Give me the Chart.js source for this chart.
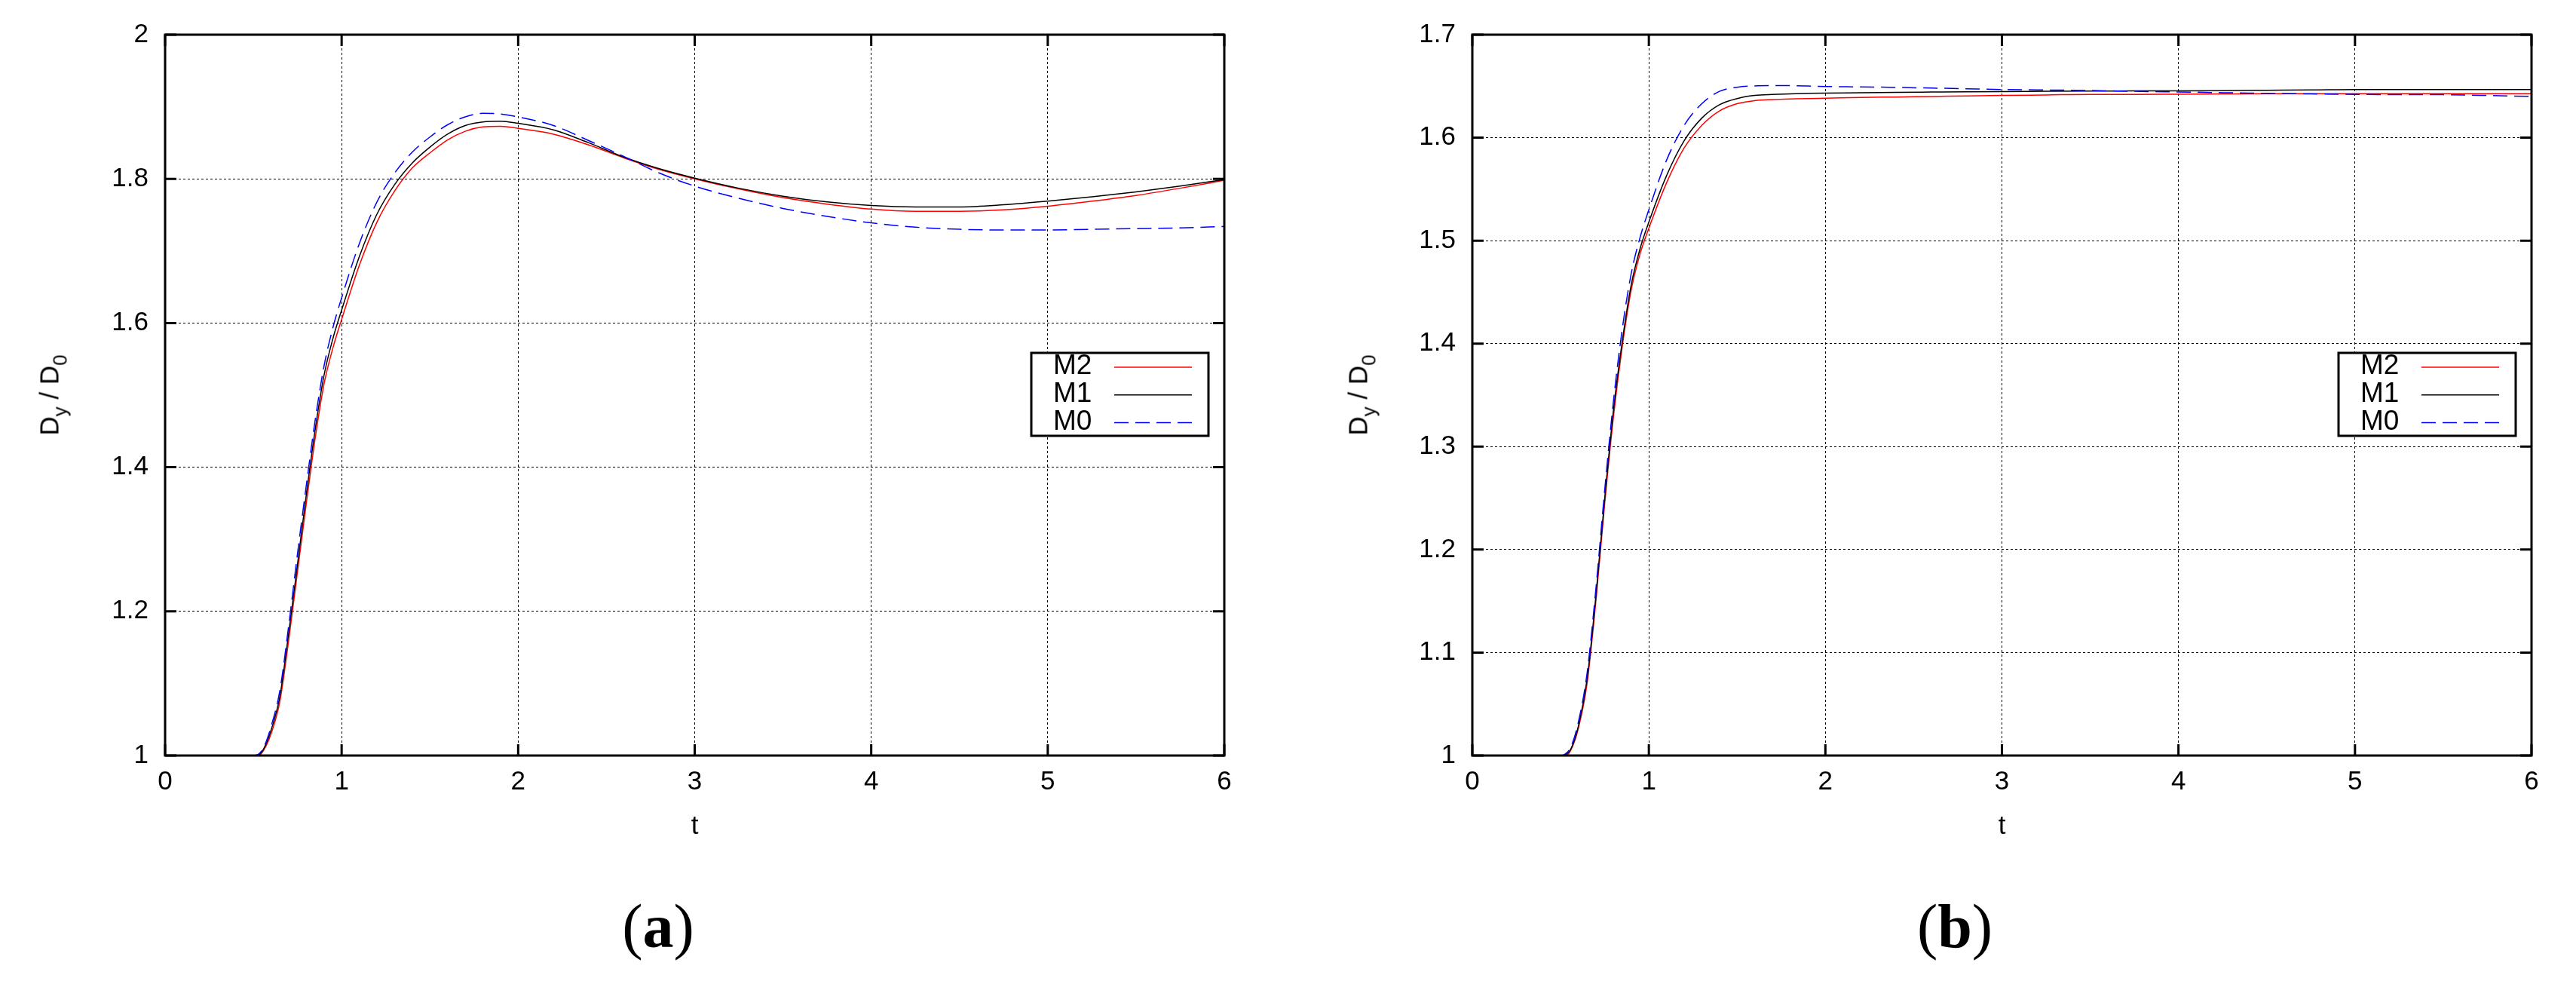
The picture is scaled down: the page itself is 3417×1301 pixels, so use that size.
<!DOCTYPE html>
<html>
<head>
<meta charset="utf-8">
<script src="https://cdn.jsdelivr.net/npm/chart.js@4.4.0/dist/chart.umd.min.js"></script>
<style>
  html, body { margin: 0; padding: 0; background: #fff; }
  body { width: 3417px; height: 1301px; position: relative; overflow: hidden; }
  canvas { position: absolute; top: 0; }
  #chartA { left: 0; }
  #chartB { left: 1708px; }
  .ytitle {
    position: absolute; font-family: 'Liberation Sans', Arial, sans-serif; font-size: 35px;
    line-height: 1; white-space: nowrap; color: #000;
    transform: translate(-50%, -50%) rotate(-90deg);
  }
  .ytitle sub { font-size: 26px; vertical-align: -11px; line-height: 0; }
  .caption {
    position: absolute; top: 1229px; font-family: 'Liberation Serif', 'Times New Roman', serif;
    font-size: 82px; line-height: 1; color: #000; transform: translate(-50%, -50%);
  }
</style>
</head>
<body>
<canvas id="chartA" width="1708" height="1301" style="width:1708px;height:1301px"></canvas>
<canvas id="chartB" width="1709" height="1301" style="width:1709px;height:1301px"></canvas>
<div class="ytitle" style="left:65px;top:524px">D<sub>y</sub> / D<sub>0</sub></div>
<div class="ytitle" style="left:1801px;top:524px">D<sub>y</sub> / D<sub>0</sub></div>
<div class="caption" style="left:873px">(<b>a</b>)</div>
<div class="caption" style="left:2593px">(<b>b</b>)</div>
<script>
// time samples shared by both panels
const tValues = [0, 0.5, 0.53, 0.56, 0.6, 0.65, 0.7, 0.75, 0.8, 0.85,
                 0.9, 0.95, 1.0, 1.1, 1.2, 1.3, 1.4, 1.5, 1.6, 1.7,
                 1.8, 1.9, 2.0, 2.2, 2.4, 2.6, 2.8, 3.0, 3.25, 3.5,
                 3.75, 4.0, 4.25, 4.5, 4.75, 5.0, 5.25, 5.5, 5.75, 6.0];

// panel (a)
const m2A = [1, 1, 1.0, 1.008, 1.03, 1.075, 1.16, 1.255, 1.35, 1.44,
             1.515, 1.565, 1.605, 1.68, 1.74, 1.783, 1.815, 1.836, 1.854, 1.866,
             1.872, 1.873, 1.870, 1.862, 1.847, 1.829, 1.813, 1.800, 1.786, 1.774,
             1.765, 1.758, 1.755, 1.755, 1.757, 1.762, 1.769, 1.777, 1.787, 1.798];
const m1A = [1, 1, 1.001, 1.01, 1.035, 1.082, 1.17, 1.265, 1.362, 1.452,
             1.527, 1.578, 1.618, 1.692, 1.751, 1.792, 1.822, 1.844, 1.862, 1.874,
             1.879, 1.880, 1.877, 1.868, 1.850, 1.830, 1.814, 1.801, 1.787, 1.776,
             1.768, 1.763, 1.761, 1.761, 1.764, 1.769, 1.775, 1.782, 1.790, 1.799];
const m0A = [1, 1, 1.002, 1.012, 1.04, 1.09, 1.18, 1.28, 1.375, 1.465,
             1.54, 1.593, 1.635, 1.71, 1.768, 1.808, 1.837, 1.858, 1.875, 1.886,
             1.891, 1.890, 1.886, 1.874, 1.853, 1.831, 1.808, 1.790, 1.773, 1.759,
             1.748, 1.739, 1.733, 1.730, 1.729, 1.729, 1.730, 1.731, 1.732, 1.734];

// panel (b)
const m2B = [1, 1, 1.0, 1.006, 1.026, 1.07, 1.15, 1.245, 1.33, 1.398,
             1.452, 1.487, 1.512, 1.556, 1.59, 1.612, 1.626, 1.633, 1.636, 1.637,
             1.6375, 1.638, 1.6383, 1.639, 1.6395, 1.640, 1.6405, 1.641, 1.6415, 1.642,
             1.642, 1.6422, 1.6425, 1.6427, 1.6427, 1.6427, 1.6427, 1.6427, 1.6427, 1.6427];
const m1B = [1, 1, 1.001, 1.007, 1.028, 1.074, 1.155, 1.25, 1.336, 1.403,
             1.457, 1.492, 1.518, 1.563, 1.597, 1.619, 1.632, 1.638, 1.641, 1.642,
             1.6425, 1.643, 1.6433, 1.6436, 1.644, 1.6443, 1.6446, 1.6448, 1.645, 1.6452,
             1.6454, 1.6455, 1.6457, 1.646, 1.6463, 1.6468, 1.6468, 1.6468, 1.6468, 1.6468];
const m0B = [1, 1, 1.002, 1.009, 1.032, 1.08, 1.162, 1.258, 1.345, 1.415,
             1.468, 1.503, 1.53, 1.578, 1.612, 1.633, 1.645, 1.649, 1.6503, 1.6505,
             1.6505, 1.6502, 1.6497, 1.6493, 1.6488, 1.6482, 1.6475, 1.6468, 1.6463, 1.6458,
             1.645, 1.6444, 1.6437, 1.643, 1.6425, 1.642, 1.6418, 1.6417, 1.641, 1.640];

const seriesNames = ['M2', 'M1', 'M0'];
const xTicks = [0, 1, 2, 3, 4, 5, 6];
const yTicksA = [1, 1.2, 1.4, 1.6, 1.8, 2];
const yTicksB = [1, 1.1, 1.2, 1.3, 1.4, 1.5, 1.6, 1.7];

const FONT = "'Liberation Sans', Arial, sans-serif";
const TICK_LEN = 15;

Chart.defaults.font.family = FONT;
Chart.defaults.color = '#000';

// gnuplot style frame with inward ticks on all four sides
const frameTicks = {
  id: 'frameTicks',
  afterDatasetsDraw(chart) {
    const {ctx, chartArea: a, scales: {x, y}} = chart;
    ctx.save();
    ctx.strokeStyle = '#000';
    ctx.lineWidth = 3;
    ctx.setLineDash([]);
    ctx.beginPath();
    x.ticks.forEach(t => {
      const px = x.getPixelForValue(t.value);
      ctx.moveTo(px, a.bottom); ctx.lineTo(px, a.bottom - TICK_LEN);
      ctx.moveTo(px, a.top); ctx.lineTo(px, a.top + TICK_LEN);
    });
    y.ticks.forEach(t => {
      const py = y.getPixelForValue(t.value);
      ctx.moveTo(a.left, py); ctx.lineTo(a.left + TICK_LEN, py);
      ctx.moveTo(a.right, py); ctx.lineTo(a.right - TICK_LEN, py);
    });
    ctx.stroke();
    ctx.strokeRect(a.left, a.top, a.right - a.left, a.bottom - a.top);
    ctx.restore();
  }
};

// boxed legend: label on the left, line sample on the right
const boxLegend = {
  id: 'boxLegend',
  afterDraw(chart, args, opts) {
    const {ctx, chartArea: a} = chart;
    const right = a.right - opts.rightGap;
    const left = right - opts.width;
    const top = a.top + opts.top;
    ctx.save();
    ctx.fillStyle = '#fff';
    ctx.fillRect(left, top, opts.width, opts.height);
    ctx.lineWidth = 3;
    ctx.strokeStyle = '#000';
    ctx.setLineDash([]);
    ctx.strokeRect(left, top, opts.width, opts.height);
    ctx.font = '37px ' + FONT;
    ctx.textBaseline = 'middle';
    ctx.textAlign = 'left';
    chart.data.datasets.forEach((ds, i) => {
      const yy = top + opts.rowTop + i * opts.rowGap;
      ctx.fillStyle = '#000';
      ctx.fillText(ds.label, left + opts.textX, yy);
      ctx.beginPath();
      ctx.lineWidth = ds.borderWidth;
      ctx.strokeStyle = ds.borderColor;
      ctx.setLineDash(ds.borderDash || []);
      ctx.moveTo(left + opts.lineX, yy + 1);
      ctx.lineTo(right - opts.lineEndGap, yy + 1);
      ctx.stroke();
    });
    ctx.restore();
  }
};

function toPoints(values){
  return tValues.map((t, i) => ({x: t, y: values[i]}));
}

function makeDatasets(m2, m1, m0){
  const base = {showLine: true, pointRadius: 0, borderWidth: 1.5, fill: false,
                cubicInterpolationMode: 'monotone'};
  return [
    Object.assign({}, base, {label: seriesNames[0], data: toPoints(m2), borderColor: '#ff0000', order: 3}),
    Object.assign({}, base, {label: seriesNames[1], data: toPoints(m1), borderColor: '#000000', order: 2}),
    Object.assign({}, base, {label: seriesNames[2], data: toPoints(m0), borderColor: '#0000ff',
                             borderDash: [19, 9], order: 1})
  ];
}

function makeChart(canvasId, datasets, yTicks, yWidth, rightPad){
  const gridOpts = {color: '#000', lineWidth: 1, drawTicks: false};
  return new Chart(document.getElementById(canvasId), {
    type: 'scatter',
    data: {datasets: datasets},
    options: {
      responsive: false,
      animation: false,
      devicePixelRatio: 1,
      events: [],
      layout: {padding: {left: 0, top: 46, right: rightPad, bottom: 184}},
      plugins: {
        legend: {display: false},
        tooltip: {enabled: false},
        boxLegend: {top: 422, rightGap: 21, width: 235, height: 110,
                    rowTop: 18, rowGap: 36.7, textX: 29, lineX: 110, lineEndGap: 22}
      },
      scales: {
        x: {
          type: 'linear',
          min: xTicks[0],
          max: xTicks[xTicks.length - 1],
          afterBuildTicks: s => { s.ticks = xTicks.map(v => ({value: v})); },
          afterFit: s => { s.height = 115; },
          grid: gridOpts,
          border: {display: false, dash: [3, 3]},
          ticks: {padding: 14, font: {size: 35}, maxRotation: 0, autoSkip: false,
                  callback: v => String(v)},
          title: {display: true, text: 't', font: {size: 35}, padding: 0}
        },
        y: {
          type: 'linear',
          min: yTicks[0],
          max: yTicks[yTicks.length - 1],
          afterBuildTicks: s => { s.ticks = yTicks.map(v => ({value: v})); },
          afterFit: s => { s.width = yWidth; },
          grid: gridOpts,
          border: {display: false, dash: [3, 3]},
          ticks: {padding: 22, font: {size: 35}, autoSkip: false,
                  callback: v => String(v)}
        }
      }
    },
    plugins: [frameTicks, boxLegend]
  });
}

makeChart('chartA', makeDatasets(m2A, m1A, m0A), yTicksA, 219, 84);
makeChart('chartB', makeDatasets(m2B, m1B, m0B), yTicksB, 245, 59);
</script>
</body>
</html>
